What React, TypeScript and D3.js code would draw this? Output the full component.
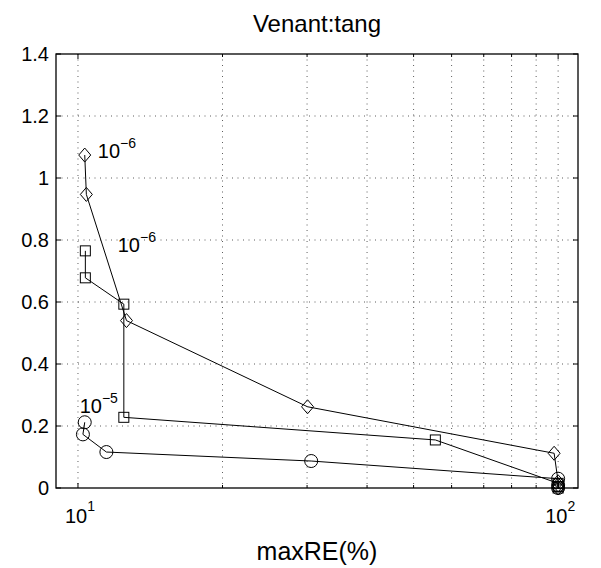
import React from "react";
import * as d3 from "d3";

// ---- data ----
const diamondX = [10.33, 10.41, 12.62, 30.07, 98.1, 100, 100, 100];
const diamondY = [1.074, 0.947, 0.54, 0.262, 0.112, 0.02, 0.01, 0.0];
const squareX = [10.36, 10.36, 12.46, 12.46, 55.5, 100, 100, 100];
const squareY = [0.765, 0.678, 0.593, 0.228, 0.155, 0.015, 0.005, 0.0];
const circleX = [10.33, 10.24, 11.46, 30.6, 100, 100, 100];
const circleY = [0.212, 0.173, 0.116, 0.087, 0.03, 0.01, 0.0];
const annotations = [
  { base: "10", sup: "\u22126", x: 11.0, y: 1.065 },
  { base: "10", sup: "\u22126", x: 12.1, y: 0.762 },
  { base: "10", sup: "\u22125", x: 10.08, y: 0.242 },
];
const yTicks = [0, 0.2, 0.4, 0.6, 0.8, 1, 1.2, 1.4];
const xMajor = [10, 100];
const xMajorExp = ["1", "2"];
const xMinor = [20, 30, 40, 50, 60, 70, 80, 90];
const title = "Venant:tang";
const xLabel = "maxRE(%)";

const W = 601;
const H = 568;
const L = 56, R = 578, T = 54, B = 488;
const FONT = "'Liberation Sans', Arial, Helvetica, sans-serif";

export default function App() {
  const x = d3.scaleLog().domain([9, 110]).range([L, R]);
  const y = d3.scaleLinear().domain([0, 1.4]).range([B, T]);
  const line = d3.line<[number, number]>().x((d) => x(d[0])).y((d) => y(d[1]));
  const zip = (a: number[], b: number[]) => a.map((v, i) => [v, b[i]] as [number, number]);
  const dPts = zip(diamondX, diamondY);
  const sPts = zip(squareX, squareY);
  const cPts = zip(circleX, circleY);
  const gridX = [...xMajor, ...xMinor];
  const tickLen = 5;
  const stroke = "#000";
  return (
    <svg width={W} height={H} style={{ position: "absolute", left: 0, top: 0, background: "#fff" }} fontFamily={FONT}>
      <rect x={0} y={0} width={W} height={H} fill="#fff" />
      {/* grid */}
      {gridX.map((v, i) => (
        <line key={"gx" + i} x1={x(v)} x2={x(v)} y1={T} y2={B} stroke="#333" strokeWidth={0.8} strokeDasharray="1,4.5" />
      ))}
      {yTicks.filter((v) => v > 0 && v < 1.4).map((v, i) => (
        <line key={"gy" + i} x1={L} x2={R} y1={y(v)} y2={y(v)} stroke="#333" strokeWidth={0.8} strokeDasharray="1,4.5" />
      ))}
      {/* ticks */}
      {yTicks.map((v, i) => (
        <g key={"ty" + i}>
          <line x1={L} x2={L + tickLen} y1={y(v)} y2={y(v)} stroke={stroke} />
          <line x1={R} x2={R - tickLen} y1={y(v)} y2={y(v)} stroke={stroke} />
          <text x={L - 7} y={y(v) + 7} textAnchor="end" fontSize={20}>{String(v)}</text>
        </g>
      ))}
      {gridX.map((v, i) => (
        <g key={"tx" + i}>
          <line x1={x(v)} x2={x(v)} y1={B} y2={B - (xMajor.includes(v) ? tickLen : 3)} stroke={stroke} />
          <line x1={x(v)} x2={x(v)} y1={T} y2={T + (xMajor.includes(v) ? tickLen : 3)} stroke={stroke} />
        </g>
      ))}
      {xMajor.map((v, i) => (
        <text key={"xl" + i} x={x(v) - 13} y={523} fontSize={20}>
          10<tspan dy={-12} fontSize={14}>{xMajorExp[i]}</tspan>
        </text>
      ))}
      {/* box */}
      <rect x={L} y={T} width={R - L} height={B - T} fill="none" stroke={stroke} strokeWidth={1.3} />
      {/* series */}
      <path d={line(dPts) || ""} fill="none" stroke="#000" strokeWidth={1} />
      <path d={line(sPts) || ""} fill="none" stroke="#000" strokeWidth={1} />
      <path d={line(cPts) || ""} fill="none" stroke="#000" strokeWidth={1} />
      {dPts.map((p, i) => (
        <path key={"dm" + i} d={`M${x(p[0])},${y(p[1]) - 7} L${x(p[0]) + 6},${y(p[1])} L${x(p[0])},${y(p[1]) + 7} L${x(p[0]) - 6},${y(p[1])} Z`} fill="none" stroke="#000" strokeWidth={1} />
      ))}
      {sPts.map((p, i) => (
        <rect key={"sq" + i} x={x(p[0]) - 5} y={y(p[1]) - 5} width={10} height={10} fill="none" stroke="#000" strokeWidth={1} />
      ))}
      {cPts.map((p, i) => (
        <circle key={"ci" + i} cx={x(p[0])} cy={y(p[1])} r={6.5} fill="none" stroke="#000" strokeWidth={1} />
      ))}
      {annotations.map((a, i) => (
        <text key={"an" + i} x={x(a.x)} y={y(a.y)} fontSize={20}>
          {a.base}<tspan dy={-10} fontSize={14}>{a.sup}</tspan>
        </text>
      ))}
      {/* title & label */}
      <text x={(L + R) / 2} y={32} textAnchor="middle" fontSize={24}>{title}</text>
      <text x={(L + R) / 2} y={560} textAnchor="middle" fontSize={25}>{xLabel}</text>
    </svg>
  );
}
